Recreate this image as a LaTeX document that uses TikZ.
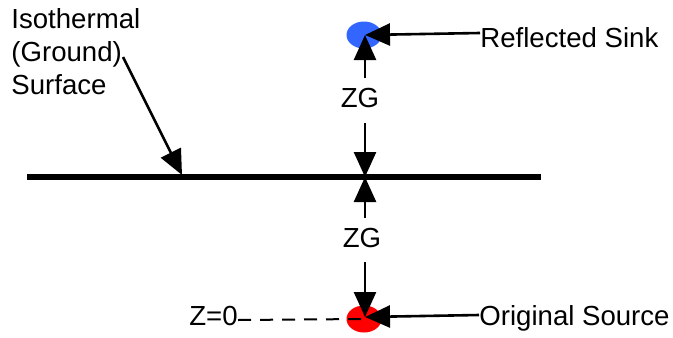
\documentclass[tikz,border=0pt]{standalone}
\usepackage{fontspec}
\setmainfont{Liberation Sans}
\usetikzlibrary{arrows.meta,positioning,shapes.geometric}
\definecolor{sinkblue}{RGB}{51,102,255}
\tikzset{
  pointer/.style={-{Triangle[length=12.5pt,width=11pt]},line width=1.3pt},
  image/.style={ellipse,draw=none,inner sep=0pt,minimum width=17.5pt,minimum height=13.5pt},
  labeltext/.style={font=\fontsize{13.8}{16.6}\selectfont,inner sep=0pt},
}

\begin{document}
\begin{tikzpicture}[x=0.5pt,y=-0.5pt]
		\useasboundingbox (0,0) rectangle (673,337);
		% ground surface
		\draw[line width=3pt] (27,177) coordinate(ground left) -- (541,177) coordinate(ground right);
		\coordinate (ground mid) at (365,177);
		% source and its image
		\node[image,fill=sinkblue] (sink) at (364,35) {};
		\node[image,fill=red] (source) at (364,319) {};
		\coordinate (sink tip) at (365,35);
		\coordinate (source tip) at (365,317);
		% labels
		\node[labeltext,anchor=base] (zg upper) at (360,107) {ZG};
		\node[labeltext,anchor=base] (zg lower) at (362,247) {ZG};
		\node[labeltext,anchor=base west] (sink label) at (480,47) {Reflected Sink};
		\node[labeltext,anchor=base west] (source label) at (479,325) {Original Source};
		\node[labeltext,anchor=base east] (zero label) at (238,325) {Z=0};
		\node[labeltext,anchor=north west,align=left] (surface label) at (11,8) {Isothermal\\(Ground)\\Surface};
		% distances ZG
		\coordinate (a1) at (365,78);
		\coordinate (a2) at (365,123);
		\coordinate (a3) at (365,218);
		\coordinate (a4) at (365,262);
		\draw[pointer] (a1) -- (sink tip);
		\draw[pointer] (a2) -- (ground mid);
		\draw[pointer] (a3) -- (ground mid);
		\draw[pointer] (a4) -- (source tip);
		% pointers from the labels
		\draw[pointer] (sink label.west |- 0,33) -- (sink tip);
		\draw[pointer] (source label.west |- 0,315) -- (source tip);
		\coordinate (surface start) at (123,57);
		\coordinate (surface tip) at (182,175);
		\draw[pointer] (surface start) -- (surface tip);
		\draw[line width=1pt,dash pattern=on 6.5pt off 4.5pt] (zero label.east |- 0,320) -- (source.center);
	\end{tikzpicture}
\end{document}
